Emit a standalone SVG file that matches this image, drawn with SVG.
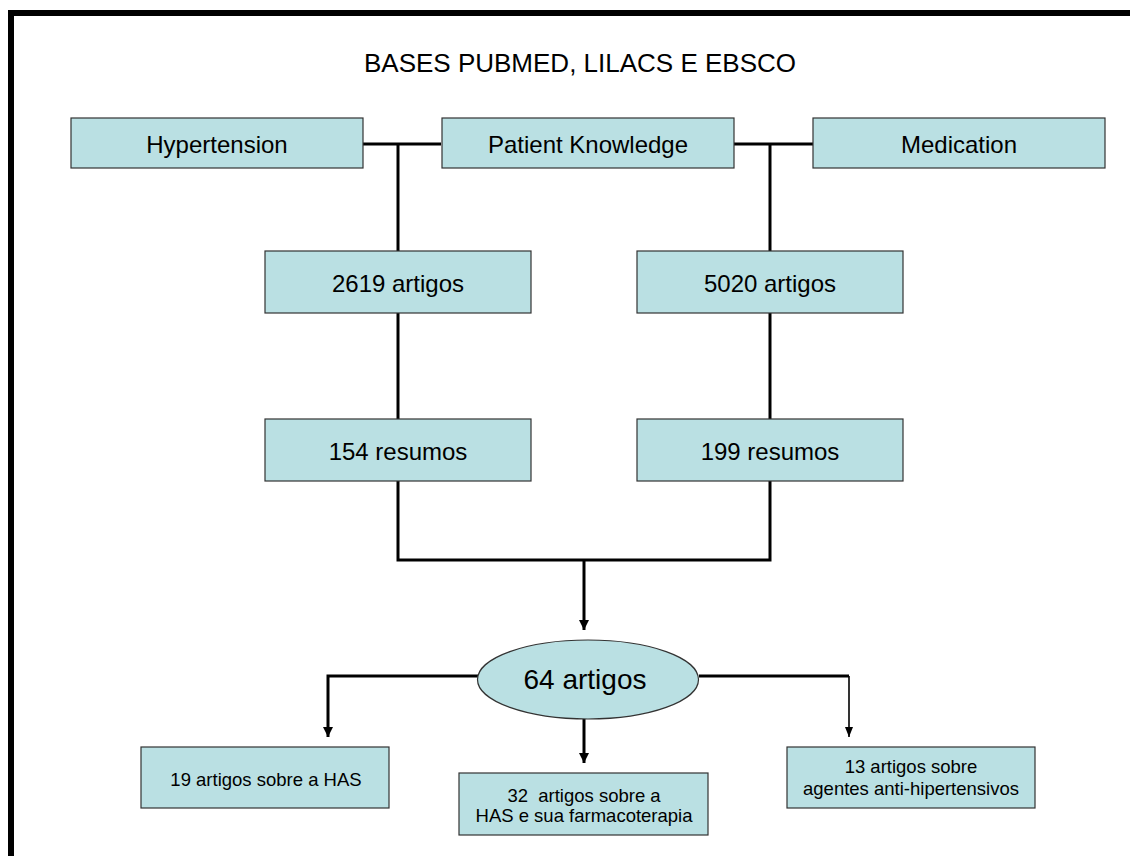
<svg xmlns="http://www.w3.org/2000/svg" width="1130" height="856" viewBox="0 0 1130 856">
<style>
.box{fill:#bae0e3;stroke:#333;stroke-width:1.2}
.t{font-family:"Liberation Sans",Arial,sans-serif;fill:#000;text-anchor:middle}
.c{fill:none;stroke:#000;stroke-width:3}
.thin{fill:none;stroke:#000;stroke-width:1.6}
</style>
<defs>
<marker id="ah" markerUnits="userSpaceOnUse" markerWidth="12" markerHeight="12" viewBox="0 0 12 12" refX="10" refY="6" orient="auto">
<path d="M0,1 L10,6 L0,11 Z" fill="#000"/>
</marker>
<marker id="ahs" markerUnits="userSpaceOnUse" markerWidth="12" markerHeight="12" viewBox="0 0 12 12" refX="10" refY="6" orient="auto">
<path d="M0,2 L10,6 L0,10 Z" fill="#000"/>
</marker>
</defs>
<rect width="1130" height="856" fill="#fff"/>
<path d="M11,856 V13 H1130" fill="none" stroke="#000" stroke-width="6"/>
<text class="t" x="580" y="72" font-size="26">BASES PUBMED, LILACS E EBSCO</text>
<g id="connectors">
<path class="c" d="M363,144 H441"/>
<path class="c" d="M734,144 H813"/>
<path class="c" d="M398,144 V251"/>
<path class="c" d="M770,144 V251"/>
<path class="c" d="M398,313 V419"/>
<path class="c" d="M770,313 V419"/>
<path class="c" d="M398,481 V560 H770 V481"/>
<path class="c" d="M584,560 V630" marker-end="url(#ah)"/>
<path class="c" d="M478,676 H328 V737" marker-end="url(#ah)"/>
<path class="c" d="M584,719 V763" marker-end="url(#ah)"/>
<path class="c" d="M699,676 H849"/>
<path class="thin" d="M849,676 V737" marker-end="url(#ahs)"/>
</g>
<g id="hypertension">
<rect class="box" x="71" y="118" width="292" height="50"/>
<text class="t" x="217" y="153" font-size="24">Hypertension</text>
</g>
<g id="patient-knowledge">
<rect class="box" x="442" y="118" width="292" height="50"/>
<text class="t" x="588" y="153" font-size="24">Patient Knowledge</text>
</g>
<g id="medication">
<rect class="box" x="813" y="118" width="292" height="50"/>
<text class="t" x="959" y="153" font-size="24">Medication</text>
</g>
<g id="n2619">
<rect class="box" x="265" y="251" width="266" height="62"/>
<text class="t" x="398" y="292" font-size="24">2619 artigos</text>
</g>
<g id="n5020">
<rect class="box" x="637" y="251" width="266" height="62"/>
<text class="t" x="770" y="292" font-size="24">5020 artigos</text>
</g>
<g id="n154">
<rect class="box" x="265" y="419" width="266" height="62"/>
<text class="t" x="398" y="460" font-size="24">154 resumos</text>
</g>
<g id="n199">
<rect class="box" x="637" y="419" width="266" height="62"/>
<text class="t" x="770" y="460" font-size="24">199 resumos</text>
</g>
<g id="n64">
<ellipse class="box" cx="588" cy="679.5" rx="110.5" ry="39.5"/>
<text class="t" x="585" y="689" font-size="28">64 artigos</text>
</g>
<g id="n19">
<rect class="box" x="141" y="747" width="248" height="61"/>
<text class="t" x="266" y="786" font-size="18.5">19 artigos sobre a HAS</text>
</g>
<g id="n32">
<rect class="box" x="459" y="773" width="249" height="62"/>
<text class="t" x="584" y="802" font-size="18.5" style="white-space:pre">32  artigos sobre a</text>
<text class="t" x="584" y="822" font-size="18.5">HAS e sua farmacoterapia</text>
</g>
<g id="n13">
<rect class="box" x="787" y="747" width="248" height="61"/>
<text class="t" x="911" y="773" font-size="18.5">13 artigos sobre</text>
<text class="t" x="911" y="795" font-size="18.5">agentes anti-hipertensivos</text>
</g>
</svg>
